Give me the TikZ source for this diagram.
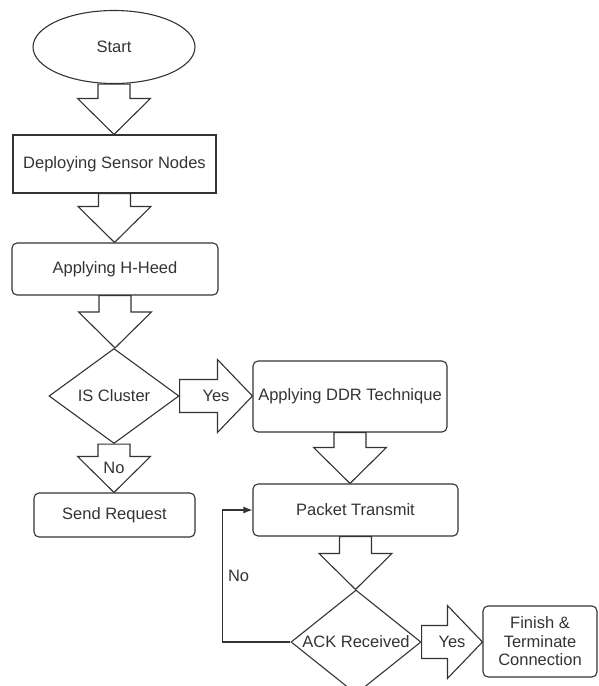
\documentclass[tikz,border=0pt]{standalone}
\usepackage{fontspec}
\setmainfont{Liberation Sans}
\usetikzlibrary{shapes.geometric,arrows.meta,calc}

\definecolor{linegray}{HTML}{333333}

% hollow block arrows between two nodes
\newcommand{\downblock}[3]{%
	\draw[block arrow] let \p1=(#1), \p2=(#2) in
	(\x1-16pt,\y1) -- (\x1-16pt,\y2+36pt) -- (\x1-36.5pt,\y2+36pt) -- (\x1,\y2)
	-- (\x1+36.5pt,\y2+36pt) -- (\x1+16pt,\y2+36pt) -- (\x1+16pt,\y1) -- cycle
	node at (\x1,{(\y1+\y2)/2}) {#3};}
\newcommand{\rightblock}[3]{%
	\draw[block arrow] let \p1=(#1), \p2=(#2) in
	(\x1,\y1+16.5pt) -- (\x2-35pt,\y1+16.5pt) -- (\x2-35pt,\y1+36.5pt) -- (\x2,\y1)
	-- (\x2-35pt,\y1-36.5pt) -- (\x2-35pt,\y1-16.5pt) -- (\x1,\y1-16.5pt) -- cycle
	node at ({(\x1+\x2)/2},\y1) {#3};}

\begin{document}
\begin{tikzpicture}[x=1pt, y=-1pt, line width=1.1pt, draw=linegray,
	every node/.style={font=\fontsize{16.5}{18.5}\selectfont, text=linegray},
	main node/.style={draw=linegray, inner sep=0pt},
	box node/.style={main node, rectangle, minimum width=203pt, minimum height=58pt},
	round node/.style={main node, rectangle, rounded corners=5pt},
	start node/.style={main node, ellipse, minimum width=162pt, minimum height=73pt},
	decision node/.style={main node, diamond, minimum width=130pt},
	block arrow/.style={draw=linegray, line width=1.1pt, line join=miter}]
	
	\useasboundingbox (0,0) rectangle (598,686);
	\clip (0,0) rectangle (598,686);
	
	\node[start node] (1) at (114,47) {Start};
	\node[box node] (2) at (114.5,164) {Deploying Sensor Nodes};
	\node[round node, minimum width=206pt, minimum height=52pt] (3) at (115,269) {Applying H-Heed};
	\node[decision node, minimum height=95pt] (4) at (114,396) {\makebox[0pt]{IS Cluster}};
	\node[round node, minimum width=194pt, minimum height=71pt] (5) at (350,396.5) {\makebox[0pt]{Applying DDR Technique}};
	\node[round node, minimum width=161pt, minimum height=44pt] (6) at (114.5,515) {Send Request};
	\node[round node, minimum width=205pt, minimum height=52pt] (7) at (355.5,510) {Packet Transmit};
	\node[decision node, minimum height=104pt] (8) at (356,642) {\makebox[0pt]{ACK Received}};
	\node[round node, minimum width=114pt, minimum height=71pt, align=center] (9) at (540,641.5)
	{Finish \&\\Terminate\\Connection};
	
	\downblock{1.south}{2.north}{}
	\downblock{2.south}{3.north}{}
	\downblock{3.south}{4.north}{}
	\rightblock{4.east}{5.west}{Yes}
	\downblock{4.south}{6.north}{No}
	\downblock{5.south}{7.north}{}
	\downblock{7.south}{8.north}{}
	\rightblock{8.east}{9.west}{Yes}
	
	\draw[-{Latex[length=9pt,width=7pt]}] (8.west) -- ++(-68,0) |- (7.west)
	node[pos=0.25, right, inner sep=5pt] {No};
\end{tikzpicture}
\end{document}
